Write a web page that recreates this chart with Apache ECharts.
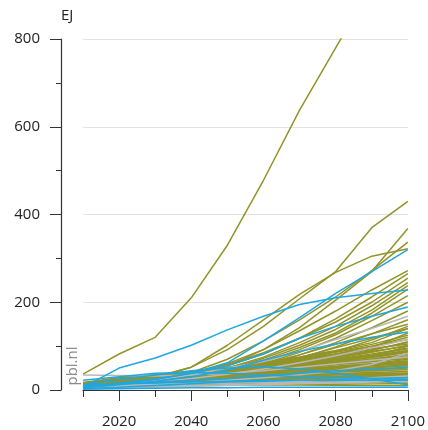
<!DOCTYPE html>
<html>
<head>
<meta charset="utf-8">
<script src="https://cdn.jsdelivr.net/npm/echarts@6/dist/echarts.min.js"></script>
<style>
  html, body { margin: 0; padding: 0; background: #fff; }
  #chart { width: 428px; height: 430px; }
</style>
</head>
<body>
<div id="chart"></div>
<script>
const years = [2010, 2020, 2030, 2040, 2050, 2060, 2070, 2080, 2090, 2100];
const xLabelYears = [2020, 2040, 2060, 2080, 2100];

// scenarios drawn in olive
const oliveRuns = [
  [36, 82, 120, 210, 330, 478, 638, 780, 920, 1040],
  [10, 18, 30, 52, 92, 145, 208, 270, 370, 430],
  [8, 15, 28, 52, 102, 160, 218, 268, 305, 322],
  [6, 12, 20, 32, 55, 92, 142, 205, 270, 368],
  [8, 14, 24, 40, 70, 112, 160, 212, 272, 337],
  [6, 12, 22, 38, 60, 92, 135, 180, 228, 272],
  [5, 10, 20, 35, 55, 82, 118, 162, 212, 265],
  [7, 14, 25, 40, 58, 85, 118, 155, 200, 255],
  [6, 12, 22, 34, 50, 75, 108, 145, 192, 245],
  [5, 11, 20, 32, 48, 72, 102, 138, 182, 238],
  [4, 10, 18, 30, 46, 68, 97, 130, 175, 230],
  [6, 12, 20, 30, 44, 64, 92, 126, 168, 215],
  [5, 10, 18, 28, 42, 60, 86, 118, 158, 200],
  [4, 9, 16, 26, 38, 56, 80, 108, 142, 180],
  [5, 10, 17, 26, 37, 52, 72, 98, 128, 160],
  [4, 9, 15, 24, 35, 48, 66, 88, 114, 145],
  [10, 18, 26, 34, 44, 60, 80, 104, 128, 150],
  [8, 16, 24, 32, 42, 56, 74, 96, 118, 140],
  [12, 22, 30, 38, 46, 55, 68, 82, 100, 120],
  [10, 20, 28, 36, 45, 55, 66, 78, 92, 108],
  [8, 18, 26, 35, 44, 52, 60, 70, 82, 96],
  [15, 25, 32, 40, 48, 54, 60, 68, 78, 90],
  [6, 14, 22, 30, 38, 45, 52, 60, 70, 82],
  [9, 17, 24, 32, 40, 48, 55, 62, 70, 78],
  [14, 24, 30, 36, 42, 46, 52, 58, 65, 72],
  [5, 12, 20, 28, 36, 42, 48, 54, 60, 66],
  [11, 20, 26, 30, 34, 40, 46, 52, 58, 62],
  [7, 15, 22, 28, 33, 38, 42, 47, 52, 58],
  [13, 22, 28, 32, 36, 40, 44, 48, 52, 55],
  [4, 10, 16, 22, 28, 34, 38, 42, 46, 50],
  [10, 18, 22, 26, 30, 34, 38, 41, 44, 46],
  [6, 12, 18, 22, 26, 30, 34, 37, 40, 42],
  [12, 20, 24, 28, 30, 32, 34, 36, 37, 38],
  [3, 8, 14, 18, 22, 26, 29, 31, 33, 34],
  [8, 14, 18, 20, 22, 25, 27, 28, 29, 30],
  [5, 10, 14, 16, 18, 20, 22, 23, 24, 25],
  [9, 14, 16, 18, 20, 20, 20, 19, 18, 18],
  [4, 8, 10, 12, 14, 15, 16, 16, 16, 15],
  [6, 9, 11, 12, 12, 12, 12, 11, 10, 10],
  [2, 5, 8, 10, 11, 12, 12, 12, 11, 10],
  [16, 26, 34, 42, 52, 62, 74, 88, 104, 125],
  [10, 18, 27, 38, 50, 62, 75, 90, 108, 140],
  [8, 16, 25, 36, 48, 60, 72, 86, 100, 115],
  [12, 21, 28, 34, 42, 50, 60, 72, 86, 102],
  [7, 14, 22, 32, 45, 58, 70, 82, 94, 105],
  [11, 19, 26, 31, 38, 46, 54, 64, 76, 88],
  [3, 6, 10, 14, 18, 22, 26, 30, 34, 38],
  [14, 20, 22, 22, 22, 24, 26, 28, 30, 32],
  [9, 18, 26, 34, 42, 50, 58, 68, 80, 94],
  [13, 24, 32, 38, 44, 50, 56, 64, 74, 86],
  [7, 15, 23, 31, 39, 47, 56, 66, 76, 100],
  [11, 21, 29, 37, 43, 48, 54, 60, 68, 76],
  [5, 13, 21, 29, 35, 41, 46, 52, 60, 70],
  [15, 26, 33, 39, 45, 52, 62, 74, 90, 110],
  [8, 16, 24, 30, 34, 38, 44, 50, 56, 64],
  [12, 21, 27, 32, 37, 43, 50, 58, 66, 74],
  [6, 13, 19, 25, 30, 35, 40, 45, 50, 56],
  [10, 17, 22, 26, 28, 30, 32, 34, 35, 36],
  [4, 9, 13, 17, 20, 23, 26, 28, 30, 28],
  [7, 12, 15, 17, 18, 19, 20, 20, 21, 22],
  [17, 28, 35, 42, 50, 58, 66, 76, 88, 100],
  [9, 19, 28, 37, 46, 56, 68, 80, 96, 130],
  [12, 22, 29, 35, 40, 44, 48, 52, 56, 60]
];

// grey scenarios, under and over the olive ones
const greyBackRuns = [
  [4, 8, 14, 20, 28, 36, 46, 58, 72, 88],
  [6, 12, 18, 24, 30, 38, 48, 60, 74, 92],
  [3, 7, 12, 18, 24, 30, 36, 42, 50, 60],
  [8, 14, 20, 26, 30, 34, 40, 46, 54, 64],
  [5, 10, 14, 18, 22, 28, 34, 40, 46, 52],
  [2, 5, 9, 13, 18, 24, 30, 36, 42, 48],
  [10, 16, 20, 22, 24, 26, 30, 34, 38, 42],
  [12, 18, 22, 26, 30, 36, 44, 54, 64, 76],
  [7, 12, 16, 20, 26, 32, 38, 46, 56, 68]
];
const greyFrontRuns = [
  [34, 33, 32, 34, 38, 44, 52, 60, 68, 75],
  [5, 12, 22, 35, 50, 65, 88, 115, 140, 168],
  [6, 12, 18, 26, 36, 48, 62, 78, 96, 115],
  [4, 8, 12, 14, 16, 18, 20, 24, 28, 32],
  [6, 10, 12, 14, 16, 18, 20, 22, 24, 26],
  [3, 5, 8, 10, 12, 14, 16, 18, 20, 22],
  [5, 9, 13, 17, 22, 28, 35, 44, 58, 84],
  [2, 4, 6, 8, 10, 12, 14, 16, 18, 20]
];

// scenarios drawn in blue
const blueRuns = [
  [6, 50, 73, 102, 137, 168, 195, 210, 220, 228],
  [5, 14, 24, 38, 62, 112, 165, 220, 270, 320],
  [8, 16, 25, 38, 55, 82, 118, 145, 168, 189],
  [5, 12, 20, 30, 45, 68, 88, 105, 120, 132],
  [12, 24, 34, 44, 50, 53, 48, 38, 25, 12],
  [22, 30, 38, 40, 38, 34, 30, 28, 26, 24],
  [3, 6, 10, 14, 18, 20, 22, 24, 26, 28],
  [10, 14, 16, 18, 20, 22, 22, 22, 22, 22],
  [2, 3, 4, 5, 5, 6, 6, 6, 6, 6],
  [8, 14, 18, 22, 26, 32, 38, 44, 48, 52]
];

const OLIVE = "#929428";
const GREY = "#b8b8b8";
const BLUE = "#1ea7e1";
const FONT = "Open Sans";

function makeSeries(runs, color) {
  return runs.map((run) => ({
    type: "line",
    data: run.map((v, i) => [years[i], v]),
    showSymbol: false,
    symbol: "none",
    silent: true,
    clip: true,
    lineStyle: { color, width: 1.5 },
  }));
}

const chart = echarts.init(document.getElementById("chart"));

chart.setOption({
  animation: false,
  grid: { left: 83, right: 19, top: 39, bottom: 40 },
  xAxis: [
    {
      type: "value",
      min: 2010,
      max: 2100,
      interval: 10,
      axisLine: { lineStyle: { color: "#333", width: 1.2 } },
      axisTick: { length: 7, lineStyle: { color: "#333" } },
      axisLabel: {
        customValues: xLabelYears,
        formatter: (v) => String(v),
        margin: 24,
        color: "#222",
        fontSize: 15,
        fontFamily: FONT,
      },
      splitLine: { show: false },
    },
    {
      // longer ticks every 20 years
      type: "value",
      min: 2010,
      max: 2100,
      position: "bottom",
      axisLine: { show: false },
      axisTick: { customValues: xLabelYears, length: 11, lineStyle: { color: "#333" } },
      axisLabel: { show: false, customValues: xLabelYears },
      splitLine: { show: false },
    },
  ],
  yAxis: {
    type: "value",
    min: 0,
    max: 800,
    interval: 200,
    offset: 22,
    axisLine: { show: true, lineStyle: { color: "#333", width: 1.2 } },
    axisTick: { show: true, length: 11, lineStyle: { color: "#333" } },
    minorTick: { show: true, splitNumber: 2, length: 5, lineStyle: { color: "#333" } },
    axisLabel: { margin: 21, color: "#222", fontSize: 15, fontFamily: FONT },
    splitLine: { lineStyle: { color: "#e2e2e2", width: 1 } },
  },
  graphic: [
    {
      type: "text",
      left: 61,
      top: 8,
      style: { text: "EJ", fill: "#222", font: `15px "${FONT}"` },
    },
    {
      type: "text",
      x: 73,
      y: 366,
      rotation: Math.PI / 2,
      style: {
        text: "pbl.nl",
        fill: "#8c8c8c",
        font: `15px "${FONT}"`,
        align: "center",
        verticalAlign: "middle",
      },
    },
  ],
  series: [
    ...makeSeries(greyBackRuns, GREY),
    ...makeSeries(oliveRuns, OLIVE),
    ...makeSeries(greyFrontRuns, GREY),
    ...makeSeries(blueRuns, BLUE),
  ],
});
</script>
</body>
</html>
